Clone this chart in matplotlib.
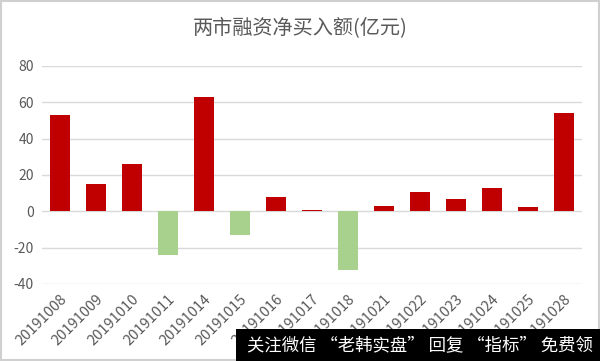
import matplotlib
matplotlib.use("Agg")
import matplotlib.pyplot as plt
from matplotlib.patches import Rectangle

plt.rcParams['font.family'] = ['Noto Sans CJK SC', 'DejaVu Sans']

# data
dates = ['20191008', '20191009', '20191010', '20191011', '20191014',
         '20191015', '20191016', '20191017', '20191018', '20191021',
         '20191022', '20191023', '20191024', '20191025', '20191028']
values = [53.1, 15.0, 26.0, -24.2, 62.8, -13.2, 8.1, 0.5, -32.4,
          2.7, 10.6, 6.8, 13.0, 2.4, 54.2]
yticks = [-40, -20, 0, 20, 40, 60, 80]

red = '#C00000'
green = '#A9D18E'
colors = [red if v >= 0 else green for v in values]

fig = plt.figure(figsize=(6, 3.61), dpi=100)
ax = fig.add_axes([0.07, 0.2133, 0.90, 0.604])

x = range(len(dates))
ax.bar(x, values, width=0.57, color=colors, zorder=3)

ax.set_ylim(-40, 80)
ax.set_xlim(-0.5, len(dates) - 0.5)
ax.set_yticks(yticks)
ax.set_yticklabels([str(t) for t in yticks], fontsize=10, color='#595959')
ax.set_xticks(list(x))
ax.set_xticklabels(dates, rotation=45, ha='right', rotation_mode='anchor',
                   fontsize=10.5, color='#595959')
ax.tick_params(length=0, pad=6)
ax.grid(axis='y', color='#D9D9D9', linewidth=1, zorder=0)
for s in ax.spines.values():
    s.set_visible(False)

fig.text(0.5, 0.92, '两市融资净买入额(亿元)', ha='center', va='center',
         fontsize=14.5, color='#595959')

# light frame around the picture
fig.patches.append(Rectangle((0.002, 0.003), 0.996, 0.994, transform=fig.transFigure,
                             fill=False, edgecolor='#D0D0D0', linewidth=1.5))

# watermark box bottom right
fig.patches.append(Rectangle((236 / 600, 0), 364 / 600, 32 / 361, transform=fig.transFigure,
                             facecolor='black', edgecolor='none', zorder=5))
fig.text(420 / 600, 16 / 361, '关注微信 “老韩实盘” 回复 “指标” 免费领', ha='center',
         va='center', fontsize=12.5, color='white', zorder=6)

fig.savefig('out.png', dpi=100)
